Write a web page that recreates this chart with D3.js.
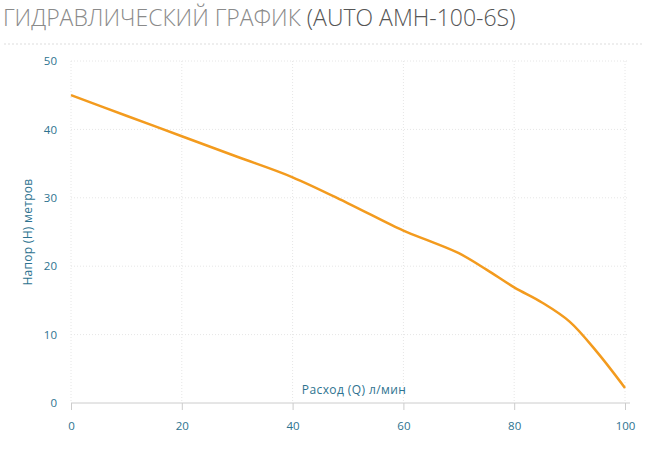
<!DOCTYPE html>
<html><head><meta charset="utf-8">
<script src="https://cdn.jsdelivr.net/npm/d3@7"></script>
<style>
body{margin:0;background:#fff;}
svg{display:block;}
</style></head>
<body>
<svg id="c" width="652" height="458"></svg>
<script>
const flow = [0,10,20,30,40,50,60,65,70,75,80,85,90,95,100];
const head = [45,42,39,36,33,29.2,25.2,23.6,21.9,19.5,16.9,14.7,11.9,7.4,2.2];
const xTicks = [0,20,40,60,80,100];
const yTicks = [0,10,20,30,40,50];
const titleMain = "ГИДРАВЛИЧЕСКИЙ ГРАФИК ";
const titleModel = "(AUTO AMH-100-6S)";
const xLabel = "Расход (Q) л/мин";
const yLabel = "Напор (H) метров";

const svg = d3.select("#c");
const x = d3.scaleLinear().domain([0,100]).range([71,625]);
const y = d3.scaleLinear().domain([0,50]).range([403,61]);
const font = "'Open Sans', sans-serif";
const teal = "#2e7390";

// title
const t = svg.append("text").attr("x",3).attr("y",26)
  .attr("font-family",font).attr("font-weight",300).attr("font-size",23);
t.append("tspan").attr("fill","#8a8a8a").text(titleMain);
t.append("tspan").attr("fill","#555").text(titleModel);

svg.append("line").attr("x1",4).attr("x2",642).attr("y1",44).attr("y2",44)
  .attr("stroke","#ddd").attr("stroke-dasharray","2,2");

// grid
svg.append("g").selectAll("line").data(yTicks.filter(d=>d>0)).join("line")
  .attr("x1",x(0)).attr("x2",x(100)+2).attr("y1",d=>y(d)).attr("y2",d=>y(d))
  .attr("stroke","#e6e6e6").attr("stroke-dasharray","1,2");
svg.append("g").selectAll("line").data(xTicks).join("line")
  .attr("x1",d=>x(d)).attr("x2",d=>x(d)).attr("y1",y(50)).attr("y2",y(0))
  .attr("stroke","#e6e6e6").attr("stroke-dasharray","1,2");

// x axis
const xa = svg.append("g").attr("transform",`translate(0,${y(0)})`)
  .call(d3.axisBottom(x).tickValues(xTicks).tickSize(7).tickPadding(12).tickSizeOuter(0));
xa.select(".domain").attr("stroke","#ccc").attr("d",`M${x(0)},0H${x(100)+5}`);
xa.selectAll(".tick line").attr("stroke","#ccc");
xa.selectAll("text").attr("fill",teal).attr("font-family",font).attr("font-size",11.5);

// y axis
const ya = svg.append("g").attr("transform",`translate(${x(0)},0)`)
  .call(d3.axisLeft(y).tickValues(yTicks).tickSize(0).tickPadding(14));
ya.select(".domain").remove();
ya.selectAll("text").attr("fill",teal).attr("font-family",font).attr("font-size",11.5);

svg.append("text").attr("x",354).attr("y",394).attr("text-anchor","middle")
  .attr("fill",teal).attr("font-family",font).attr("font-size",12).attr("letter-spacing",0.4).text(xLabel);
svg.append("text").attr("transform",`translate(32,232) rotate(-90)`).attr("text-anchor","middle")
  .attr("fill",teal).attr("font-family",font).attr("font-size",12).attr("letter-spacing",0.3).text(yLabel);

// line
const line = d3.line().x((d,i)=>x(flow[i])).y(d=>y(d)).curve(d3.curveCatmullRom.alpha(0.5));
svg.append("path").attr("d",line(head)).attr("fill","none")
  .attr("stroke","#f39b1e").attr("stroke-width",2.5).attr("stroke-linejoin","round");
</script>
</body></html>
